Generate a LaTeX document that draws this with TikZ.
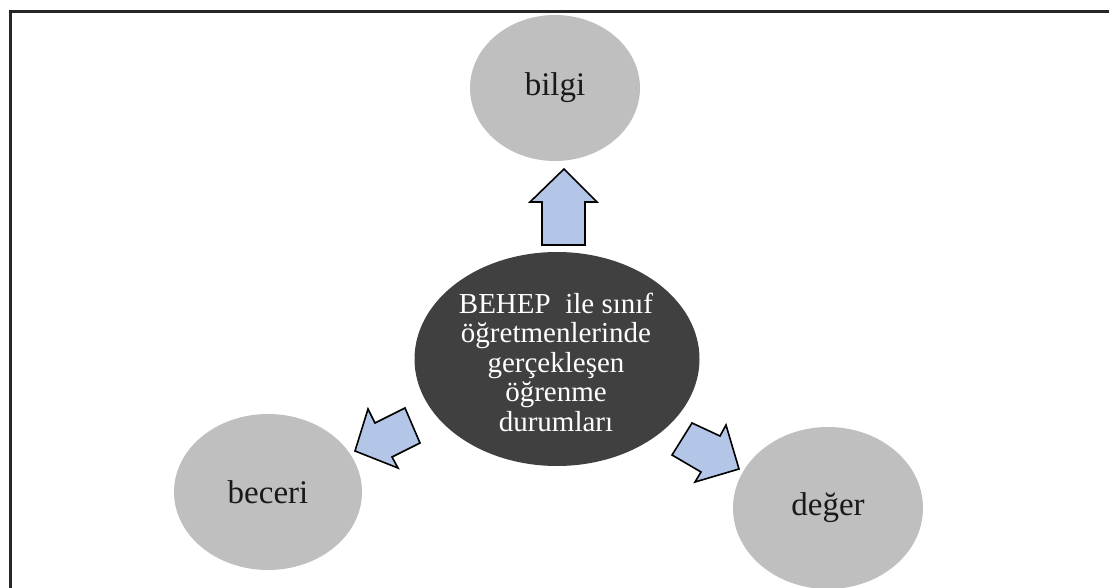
\documentclass[tikz,border=0pt]{standalone}
\usepackage{fontspec}
\setmainfont{Liberation Serif}
\usetikzlibrary{shapes.geometric}
\definecolor{outerfill}{HTML}{BFBFBF}
\definecolor{corefill}{HTML}{404040}
\definecolor{arrowfill}{HTML}{B4C6E7}
\begin{document}
\begin{tikzpicture}[x=1pt,y=-1pt,
  outer/.style={ellipse, fill=outerfill, inner sep=0pt,
    font=\fontsize{33}{36}\selectfont, text=black!90},
  core/.style={ellipse, fill=corefill, inner sep=0pt, text=white,
    align=center, font=\fontsize{29}{29.5}\selectfont},
  blockarrow/.style={fill=arrowfill, draw=black, line width=1.6pt, line join=miter}]
\useasboundingbox (0,0) rectangle (1109,588);
\begin{scope}
\clip (0,0) rectangle (1109,588);

% outcome ellipses
\node[outer, minimum width=170pt, minimum height=146pt] (bilgi) at (555,88) {\raisebox{-3pt}{bilgi}};
\node[outer, minimum width=188pt, minimum height=156pt] (beceri) at (268,492) {beceri};
\node[outer, minimum width=190pt, minimum height=162pt] (deger) at (828,508) {\raisebox{-2pt}{değer}};

% central ellipse
\node[core, minimum width=285pt, minimum height=214pt] (core) at (557,359) {};
\node[core, fill=none, minimum width=0pt, minimum height=0pt] (coretext) at (556,362)
  {BEHEP\ \ ile sınıf\\öğretmenlerinde\\gerçekleşen\\öğrenme\\durumları};

% block arrows from the centre towards the outcomes
\draw[blockarrow] (564,169) -- (597,202) -- (585,202) -- (585,245) -- (542,245)
  -- (542,202) -- (530,202) -- cycle;
\draw[blockarrow] (355,451) -- (368,409) -- (375,423) -- (405,408) -- (420,443)
  -- (392,457) -- (398,468) -- cycle;
\draw[blockarrow] (739,469) -- (726,425) -- (720,436) -- (692,423) -- (672,455)
  -- (701,472) -- (695,482) -- cycle;

% frame along the top and left edges
\draw[line width=3pt, black!85] (10,588) -- (10,12) -- (1109,12);
\end{scope}
\end{tikzpicture}
\end{document}
